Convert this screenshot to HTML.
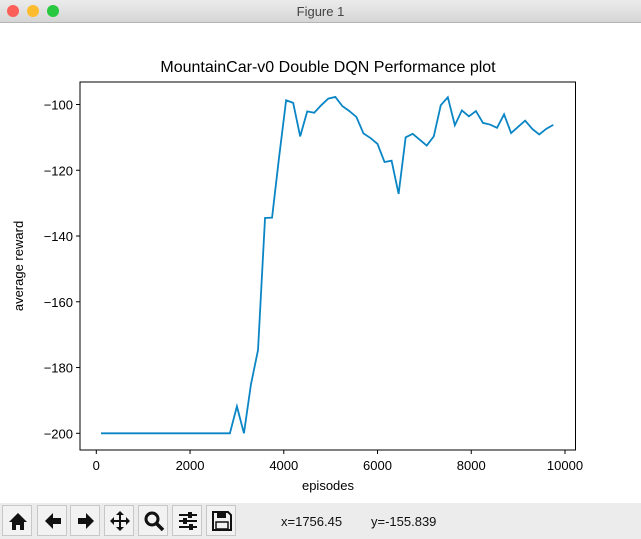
<!DOCTYPE html>
<html><head><meta charset="utf-8"><style>
body{margin:0;width:641px;height:539px;overflow:hidden;background:#fff;font-family:"Liberation Sans","DejaVu Sans",sans-serif;position:relative}
#titlebar{position:absolute;left:0;top:0;width:641px;height:22px;background:linear-gradient(#ebebeb,#d6d6d6);border-bottom:1px solid #b5b5b5}
.dot{position:absolute;top:5px;width:12px;height:12px;border-radius:50%}
#toolbar{position:absolute;left:0;top:503px;width:641px;height:36px;background:#ececec}
.btn{position:absolute;top:2px;width:30px;height:31px;border:1px solid #c8c8c8;background:#f2f2f2;box-sizing:border-box;overflow:hidden}
.btn svg{position:absolute;left:3px;top:3px}
.st{position:absolute;top:11px;font-size:13px;color:#111}
</style></head><body>
<div id="titlebar">
<div class="dot" style="left:7px;background:#fc5f57"></div>
<div class="dot" style="left:27px;background:#fdbc2e"></div>
<div class="dot" style="left:47px;background:#28c840"></div>
<div style="position:absolute;left:0;width:641px;top:4px;text-align:center;font-size:13px;color:#444">Figure 1</div>
</div>
<svg id="chart" width="641" height="503" style="position:absolute;left:0;top:0"></svg>
<div id="toolbar">
<div class="btn" style="left:2px"><svg width="24" height="24"><path d="M3 13 L12 4 L21 13 L18 13 L18 21 L14 21 L14 16 L10 16 L10 21 L6 21 L6 13Z" fill="#111"/></svg></div>
<div class="btn" style="left:37px"><svg width="24" height="24"><path d="M4 12 L12 4 L12 9 L20 9 L20 15 L12 15 L12 20Z" fill="#111"/></svg></div>
<div class="btn" style="left:70px"><svg width="24" height="24"><path d="M20 12 L12 4 L12 9 L4 9 L4 15 L12 15 L12 20Z" fill="#111"/></svg></div>
<div class="btn" style="left:104px"><svg width="24" height="24"><path d="M12 2 L16 6 L13 6 L13 11 L18 11 L18 8 L22 12 L18 16 L18 13 L13 13 L13 18 L16 18 L12 22 L8 18 L11 18 L11 13 L6 13 L6 16 L2 12 L6 8 L6 11 L11 11 L11 6 L8 6Z" fill="#111"/></svg></div>
<div class="btn" style="left:138px"><svg width="24" height="24"><circle cx="10" cy="10" r="6" fill="none" stroke="#111" stroke-width="3"/><line x1="14" y1="14" x2="21" y2="21" stroke="#111" stroke-width="3.5"/></svg></div>
<div class="btn" style="left:172px"><svg width="24" height="24"><g stroke="#111" stroke-width="2"><line x1="3" y1="6" x2="21" y2="6"/><line x1="3" y1="12" x2="21" y2="12"/><line x1="3" y1="18" x2="21" y2="18"/></g><rect x="12" y="3" width="4" height="6" fill="#111"/><rect x="7" y="9" width="4" height="6" fill="#111"/><rect x="13" y="15" width="4" height="6" fill="#111"/></svg></div>
<div class="btn" style="left:206px"><svg width="24" height="24"><path d="M3 3 L18 3 L21 6 L21 21 L3 21Z" fill="none" stroke="#111" stroke-width="2"/><rect x="7" y="3" width="9" height="6" fill="#111"/><rect x="6" y="13" width="12" height="7" fill="none" stroke="#111" stroke-width="1.5"/></svg></div>
<div class="st" style="left:281px">x=1756.45</div>
<div class="st" style="left:371px">y=-155.839</div>
</div>
<script>
const episodes=[100,300,450,600,750,900,1050,1200,1350,1500,1650,1800,1950,2100,2250,2400,2550,2700,2850,
3000,3150,3300,3450,3600,3750,3900,4050,4200,4350,4500,4650,4800,4950,5100,5250,5400,5550,5700,5850,6000,6150,6300,6450,
6600,6750,6900,7050,7200,7350,7500,7650,7800,7950,8100,8250,8400,8550,8700,8850,9000,9150,9300,9450,9600,9750];
const rewards=[-200,-200,-200,-200,-200,-200,-200,-200,-200,-200,-200,-200,-200,-200,-200,-200,-200,-200,-200,
-191.8,-200,-185.1,-174.7,-134.5,-134.4,-116,-98.7,-99.5,-109.7,-102.1,-102.5,-100.2,-98.2,-97.7,-100.5,-102,-103.8,
-108.8,-110.2,-112,-117.5,-117.1,-127.2,-110,-108.9,-110.7,-112.5,-109.7,-100.2,-97.8,-106.3,-101.8,-103.6,-102,
-105.6,-106.1,-107.1,-103,-108.7,-106.8,-104.9,-107.4,-109.1,-107.4,-106.2];
const xTicks=[0,2000,4000,6000,8000,10000];
const yTicks=[-100,-120,-140,-160,-180,-200];
const NS='http://www.w3.org/2000/svg',svg=document.getElementById('chart');
const L=80,R=575.5,T=82,B=450;
const X=v=>96.3+0.04687*v, Y=v=>104.5+(-100-v)*3.288;
function mk(t,a,txt){const e=document.createElementNS(NS,t);for(const k in a)e.setAttribute(k,a[k]);if(txt!=null)e.textContent=txt;svg.appendChild(e);return e;}
const fr=mk('rect',{x:L,y:T,width:R-L,height:B-T,fill:'none',stroke:'#000','stroke-width':1});


xTicks.forEach(v=>{const x=X(v);
const t=mk('line',{x1:x,x2:x,y1:B,y2:B+4,stroke:'#000'});


const l=mk('text',{x:x,y:B+20,'text-anchor':'middle','font-size':13},String(v));

});
yTicks.forEach(v=>{const y=Y(v);
const t=mk('line',{x1:L-4,x2:L,y1:y,y2:y,stroke:'#000'});


const l=mk('text',{x:L-7,y:y+5,'text-anchor':'end','font-size':13},'\u2212'+Math.abs(v));

});
const p=mk('polyline',{points:episodes.map((e,i)=>X(e)+','+Y(rewards[i])).join(' '),fill:'none',stroke:'#0a85c5','stroke-width':1.8});


const ti=mk('text',{x:328,y:72,'text-anchor':'middle','font-size':16},'MountainCar-v0 Double DQN Performance plot');


const xl=mk('text',{x:328,y:490,'text-anchor':'middle','font-size':13},'episodes');


const yl=mk('text',{x:23,y:266,'text-anchor':'middle','font-size':13,transform:'rotate(-90 23 266)'},'average reward');


</script>
</body></html>
